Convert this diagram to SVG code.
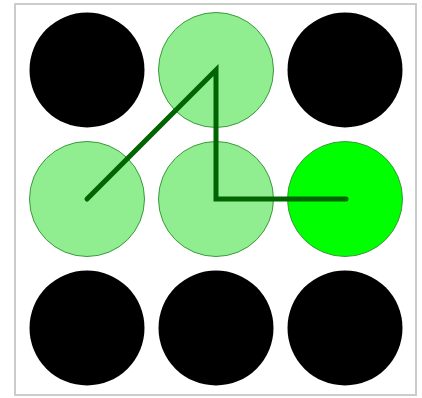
<svg xmlns="http://www.w3.org/2000/svg" width="422" height="398" viewBox="0 0 422 398">
<style>
.off{fill:#000}
.on{fill:#90ee90;stroke:#3c9a3c;stroke-width:1}
.cur{fill:#00ff00;stroke:#3c9a3c;stroke-width:1}
.path{fill:none;stroke:#006400;stroke-width:5;stroke-linecap:round}
</style>
<rect x="15" y="4" width="401" height="391" fill="#fff" stroke="#cccccc" stroke-width="2"/>
<g id="n1"><circle class="off" cx="87" cy="70" r="57.5"/></g>
<g id="n2"><circle class="on" cx="216" cy="70" r="57.5"/></g>
<g id="n3"><circle class="off" cx="345" cy="70" r="57.5"/></g>
<g id="n4"><circle class="on" cx="87" cy="199" r="57.5"/></g>
<g id="n5"><circle class="on" cx="216" cy="199" r="57.5"/></g>
<g id="n6"><circle class="cur" cx="345" cy="199" r="57.5"/></g>
<g id="n7"><circle class="off" cx="87" cy="328" r="57.5"/></g>
<g id="n8"><circle class="off" cx="216" cy="328" r="57.5"/></g>
<g id="n9"><circle class="off" cx="345" cy="328" r="57.5"/></g>
<g id="connectors"><polyline class="path" points="87,199 216,70 216,199 346,199"/></g>
</svg>
